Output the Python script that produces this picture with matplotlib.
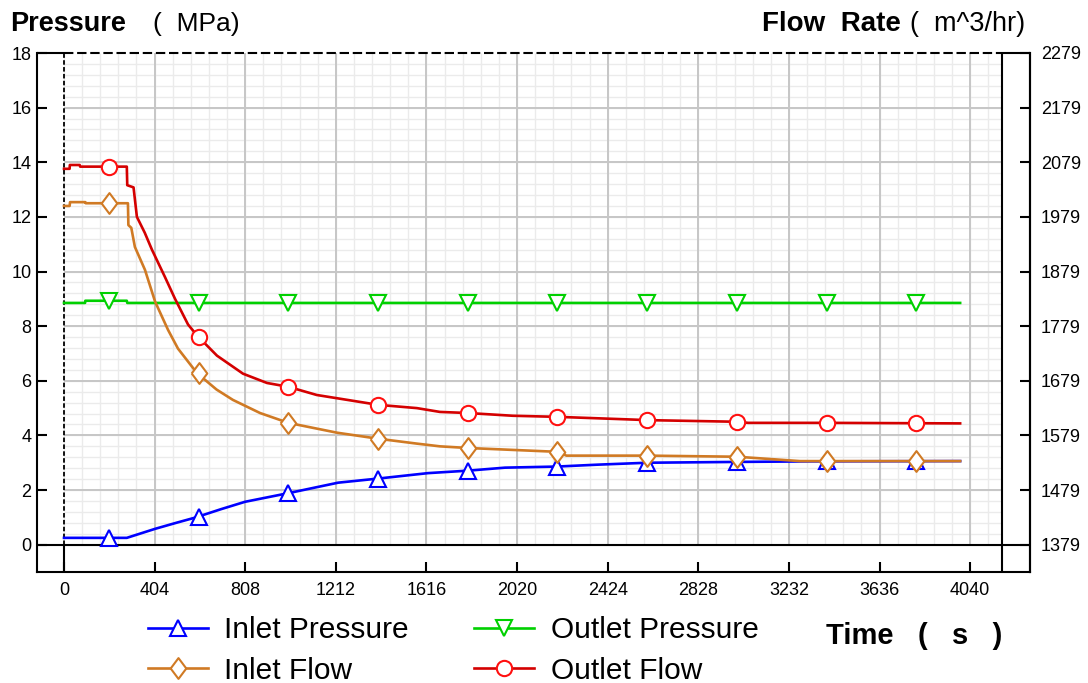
import numpy as np
import matplotlib.pyplot as plt
from matplotlib.lines import Line2D

plt.rcParams['font.family'] = ['Liberation Sans', 'DejaVu Sans']

# --- axis ticks ---
t_ticks = np.arange(0, 4041, 404)          # s
p_ticks = np.arange(0, 19, 2)              # MPa
q_ticks = np.arange(1379, 2280, 100)       # m^3/hr
t_minor = np.arange(0, 4182, 80.8)
p_minor = np.arange(0, 18, 0.4)
T_RIGHT = 4182                             # inner right border of plot area

# --- marker positions (s) ---
t_mark = [200, 600, 1000, 1400, 1800, 2200, 2600, 3000, 3400, 3800]

# --- Inlet Pressure (MPa) ---
ip_t = [0, 280, 406, 500, 584, 700, 807, 1008, 1222, 1400, 1623, 1801, 1966,
        2198, 2380, 2600, 3000, 3330, 3995]
ip_v = [0.25, 0.25, 0.58, 0.80, 0.99, 1.30, 1.57, 1.90, 2.27, 2.42, 2.62, 2.71, 2.82,
        2.86, 2.93, 3.00, 3.03, 3.05, 3.06]
ip_m = [0.25, 1.02, 1.88, 2.42, 2.71, 2.86, 3.00, 3.03, 3.05, 3.06]

# --- Outlet Pressure (MPa) ---
op_t = [0, 94, 95, 280, 282, 3995]
op_v = [8.85, 8.85, 8.93, 8.93, 8.85, 8.85]
op_m = [8.93, 8.85, 8.85, 8.85, 8.85, 8.85, 8.85, 8.85, 8.85, 8.85]

# --- Inlet Flow (m^3/hr) ---
if_t = [0, 25, 27, 95, 97, 285, 287, 300, 316, 361, 406, 464, 508, 593, 680, 753, 874,
        1000, 1217, 1400, 1573, 1676, 1800, 2198, 2240, 2600, 3000, 3281, 3995]
if_v = [1999, 1999, 2006, 2006, 2004, 2004, 1964, 1959, 1924, 1882, 1824, 1772, 1738,
        1693, 1663, 1644, 1620, 1602, 1584, 1573, 1564, 1559, 1556, 1549, 1542, 1542, 1540,
        1532, 1532]
if_m = [2005, 1693, 1602, 1573, 1556, 1549, 1542, 1540, 1532, 1532]

# --- Outlet Flow (m^3/hr) ---
of_t = [0, 25, 26, 70, 72, 280, 282, 310, 325, 360, 392, 450, 495, 553, 593, 682,
        798, 905, 1000, 1127, 1400, 1573, 1676, 1800, 2000, 2200, 2537, 2600, 3000,
        3050, 3400, 3995]
of_v = [2067, 2067, 2074, 2074, 2071, 2071, 2037, 2033, 1979, 1950, 1919, 1869, 1829,
        1782, 1762, 1725, 1692, 1675, 1668, 1653, 1635, 1629, 1622, 1620, 1615, 1613,
        1608, 1607, 1604, 1602, 1602, 1601]
of_m = [2071, 1760, 1668, 1635, 1620, 1613, 1607, 1604, 1602, 1601]

BLUE = '#0000ff'
GREEN = '#00d000'
ORANGE = '#d07a24'
RED_LINE = '#d40000'
RED_MARK = '#ff1010'

diamond = [(-0.75, 0), (0, 1), (0.75, 0), (0, -1), (-0.75, 0)]

fig = plt.figure(figsize=(10.88, 6.83), dpi=100)
ax = fig.add_axes([37 / 1088, 1 - 572 / 683, (1030 - 37) / 1088, (572 - 53) / 683])
xmin = -(64 - 37) * 4.458
xmax = (1030 - 64) * 4.458
ax.set_xlim(xmin, xmax)
ax.set_ylim(-1, 18)

# grid inside the plotting rectangle only
ax.vlines(t_minor, 0, 18, color='#ebebeb', lw=1, zorder=0)
ax.hlines(p_minor, 0, T_RIGHT, color='#ebebeb', lw=1, zorder=0)
ax.vlines(t_ticks[1:], 0, 18, color='#c6c6c6', lw=1.4, zorder=0.5)
ax.hlines(p_ticks[1:-1], 0, T_RIGHT, color='#c6c6c6', lw=1.4, zorder=0.5)

# frame lines
ax.axhline(0, color='k', lw=1.5, zorder=1)
ax.vlines(0, 0, 18, color='k', lw=1.3, linestyles=(0, (2.5, 1.3)), zorder=1)
ax.vlines(0, -1, 0, color='k', lw=1.5, zorder=1)
ax.vlines(T_RIGHT, -1, 18, color='k', lw=1.5, zorder=1)
ax.hlines(18, 0, T_RIGHT, color='k', lw=1.5, linestyles=(0, (4.5, 1.8)),
          zorder=1, clip_on=False)
ax.hlines(18, xmin, 0, color='k', lw=1.5, zorder=1, clip_on=False)
ax.hlines(18, T_RIGHT, xmax, color='k', lw=1.5, zorder=1, clip_on=False)
ax.spines['top'].set_visible(False)
for s in ['left', 'bottom', 'right']:
    ax.spines[s].set_linewidth(1.5)

ax.set_xticks(t_ticks)
ax.set_yticks(p_ticks)
ax.tick_params(axis='x', direction='in', length=7, width=1.5, labelsize=13, pad=7)
ax.tick_params(axis='y', direction='in', length=7, width=1.5, labelsize=13, pad=4)

# pressure lines
ax.plot(ip_t, ip_v, color=BLUE, lw=1.9, zorder=3)
ax.plot(t_mark, ip_m, ls='none', marker='^', ms=12, mfc='white', mec=BLUE, mew=1.5, zorder=4)
ax.plot(op_t, op_v, color=GREEN, lw=1.9, zorder=3)
ax.plot(t_mark, op_m, ls='none', marker='v', ms=12, mfc='white', mec=GREEN, mew=1.5, zorder=4)

# flow axis
ax2 = ax.twinx()
ax2.set_ylim(1329, 2279)
ax2.set_yticks(q_ticks)
for s in ['left', 'bottom', 'top']:
    ax2.spines[s].set_visible(False)
ax2.spines['right'].set_linewidth(1.5)
ax2.tick_params(axis='y', direction='in', length=7, width=1.5, labelsize=13, pad=8)

ax2.plot(if_t, if_v, color=ORANGE, lw=1.9, zorder=3)
ax2.plot(t_mark, if_m, ls='none', marker=diamond, ms=15, mfc='white', mec=ORANGE, mew=1.5, zorder=4)
ax2.plot(of_t, of_v, color=RED_LINE, lw=1.9, zorder=3)
ax2.plot(t_mark, of_m, ls='none', marker='o', ms=11, mfc='white', mec=RED_MARK, mew=1.5, zorder=4)

# titles
fig.text(10 / 1088, 1 - 31 / 683, 'Pressure', fontsize=19.5, fontweight='bold', va='baseline')
fig.text(153 / 1088, 1 - 31 / 683, '(  MPa)', fontsize=19, va='baseline')
fig.text(762 / 1088, 1 - 31 / 683, 'Flow  Rate', fontsize=20, fontweight='bold', va='baseline')
fig.text(910 / 1088, 1 - 31 / 683, '(  m^3/hr)', fontsize=19.5, va='baseline')
fig.text(826 / 1088, 1 - 644 / 683, 'Time   (   s   )', fontsize=21, fontweight='bold', va='baseline')

# legend
handles = [
    Line2D([], [], color=BLUE, lw=1.9, marker='^', ms=12, mfc='white', mec=BLUE, mew=1.5),
    Line2D([], [], color=ORANGE, lw=1.9, marker=diamond, ms=15, mfc='white', mec=ORANGE, mew=1.5),
    Line2D([], [], color=GREEN, lw=1.9, marker='v', ms=12, mfc='white', mec=GREEN, mew=1.5),
    Line2D([], [], color=RED_LINE, lw=1.9, marker='o', ms=11, mfc='white', mec=RED_MARK, mew=1.5),
]
labels = ['Inlet Pressure', 'Inlet Flow', 'Outlet Pressure', 'Outlet Flow']
fig.legend(handles, labels, loc='upper left', bbox_to_anchor=(148 / 1088, 1 - 616 / 683),
           ncol=2, frameon=False, fontsize=21.5, handlelength=2.0, handletextpad=0.55,
           columnspacing=2.2, labelspacing=0.42, borderpad=0, borderaxespad=0)

fig.savefig('out.png', dpi=100)
